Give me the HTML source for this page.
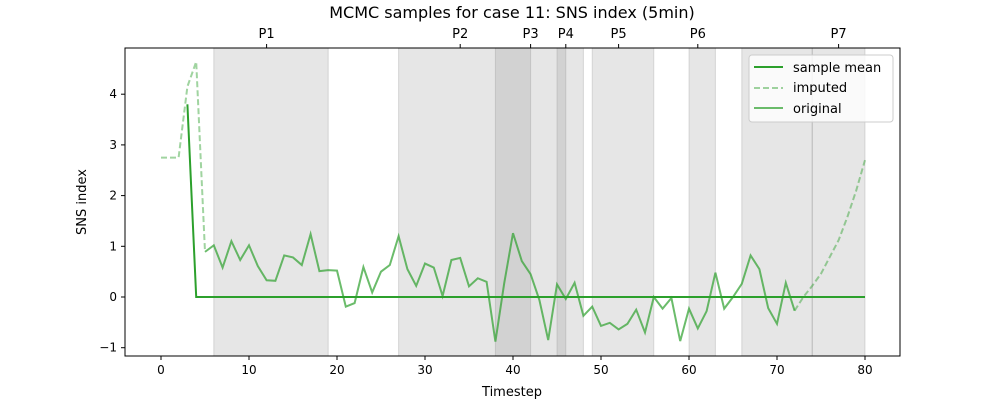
<!DOCTYPE html>
<html><head><meta charset="utf-8"><style>body{margin:0;background:#fff}svg text{font-family:"DejaVu Sans","Liberation Sans",sans-serif;fill:#000}</style></head>
<body>
<svg id="chart" width="1000" height="400">
<rect width="1000" height="400" fill="#fff"/>
<text x="512" y="18" font-size="16" text-anchor="middle">MCMC samples for case 11: SNS index (5min)</text>
<g id="spans"></g><g id="grid"></g><g id="lines"></g>
<rect x="125" y="48" width="775" height="308" fill="none" stroke="#000" stroke-width="1"/>
<text x="512" y="396" font-size="13" text-anchor="middle">Timestep</text>
<text transform="translate(86,202) rotate(-90)" font-size="13" text-anchor="middle">SNS index</text>
<g>
<rect x="749" y="55" width="144" height="67" rx="3" fill="#fff" fill-opacity="0.8" stroke="#ccc"/>
<line x1="754" y1="67" x2="783" y2="67" stroke="#2ca02c" stroke-width="2"/>
<text x="793" y="72" font-size="13">sample mean</text>
<line x1="754" y1="88" x2="783" y2="88" stroke="#2ca02c" stroke-opacity="0.45" stroke-width="2" stroke-dasharray="6,3"/>
<text x="793" y="92" font-size="13">imputed</text>
<line x1="754" y1="108" x2="783" y2="108" stroke="#2ca02c" stroke-opacity="0.7" stroke-width="2"/>
<text x="793" y="113" font-size="13">original</text>
</g>
</svg>
<script>
const xTicks=[0,10,20,30,40,50,60,70,80];
const yTicks=[-1,0,1,2,3,4];
const spanStarts=[6,27,38,45,49,60,66,74];
const spanEnds=[19,42,46,48,56,63,74,80];
const phaseLabels=["P1","P2","P3","P4","P5","P6","P7"];
const phaseCenters=[12,34,42,46,52,61,77];
const original=[null,null,null,null,null,0.89,1.02,0.58,1.10,0.73,1.02,0.61,0.33,0.32,0.82,0.78,0.63,1.24,0.51,0.53,0.52,-0.19,-0.12,0.59,0.09,0.50,0.63,1.20,0.55,0.22,0.66,0.58,0.02,0.73,0.77,0.21,0.37,0.30,-0.88,0.27,1.26,0.71,0.45,-0.06,-0.85,0.25,-0.04,0.28,-0.37,-0.19,-0.57,-0.51,-0.64,-0.53,-0.25,-0.70,0.0,-0.23,-0.02,-0.87,-0.23,-0.62,-0.28,0.48,-0.23,0.0,0.26,0.82,0.55,-0.22,-0.53,0.28,-0.27];
const imputedStart=[2.75,2.75,2.75,4.15,4.64,0.89];
const imputedEnd=[-0.27,0.0,0.22,0.46,0.79,1.12,1.58,2.1,2.70];
const imputedEndStart=72;
const meanValues=[null,null,null,3.8].concat(new Array(77).fill(0));
const X=v=>161+8.8*v, Y=v=>297-50.7*v;
const NS="http://www.w3.org/2000/svg";
function mk(p,t,a){const e=document.createElementNS(NS,t);for(const k in a)e.setAttribute(k,a[k]);p.appendChild(e);return e;}
const sp=document.getElementById('spans'),gr=document.getElementById('grid'),ln=document.getElementById('lines');
spanStarts.forEach((s,i)=>{
 const r=mk(sp,'rect',{x:X(s),y:48,width:X(spanEnds[i])-X(s),height:308,fill:'#808080','fill-opacity':0.2,stroke:'#808080','stroke-opacity':0.25});
 
 
});
phaseLabels.forEach((l,i)=>{const c=X(phaseCenters[i]);
  mk(gr,'line',{x1:c,y1:48,x2:c,y2:44,stroke:'#000'});
  const t=mk(gr,'text',{x:c,y:38,'font-size':13,'text-anchor':'middle'});t.textContent=l;
  
  });
xTicks.forEach(v=>{mk(gr,'line',{x1:X(v),y1:356,x2:X(v),y2:360,stroke:'#000'});
 const t=mk(gr,'text',{x:X(v),y:374,'font-size':12,'text-anchor':'middle'});t.textContent=v;
 
 });
yTicks.forEach(v=>{mk(gr,'line',{x1:125,y1:Y(v),x2:121,y2:Y(v),stroke:'#000'});
 const t=mk(gr,'text',{x:117,y:Y(v)+4,'font-size':12,'text-anchor':'end'});t.textContent=v<0?'\u2212'+(-v):v;
 
 });
function path(pts){return pts.map((p,i)=>(i?'L':'M')+X(p[0])+','+Y(p[1])).join('');}
const imp1=imputedStart.map((v,i)=>[i,v]);
const imp2=imputedEnd.map((v,i)=>[imputedEndStart+i,v]);
[imp1,imp2].forEach(pts=>{const p=mk(ln,'path',{d:path(pts),fill:'none',stroke:'#2ca02c','stroke-opacity':0.45,'stroke-width':2,'stroke-dasharray':'6,3'});
 
 });
const op=original.map((v,i)=>[i,v]).filter(p=>p[1]!==null);
const o=mk(ln,'path',{d:path(op),fill:'none',stroke:'#2ca02c','stroke-opacity':0.7,'stroke-width':2});


const mp=meanValues.map((v,i)=>[i,v]).filter(p=>p[1]!==null);
const m=mk(ln,'path',{d:path(mp),fill:'none',stroke:'#2ca02c','stroke-width':2});


</script>
</body></html>
